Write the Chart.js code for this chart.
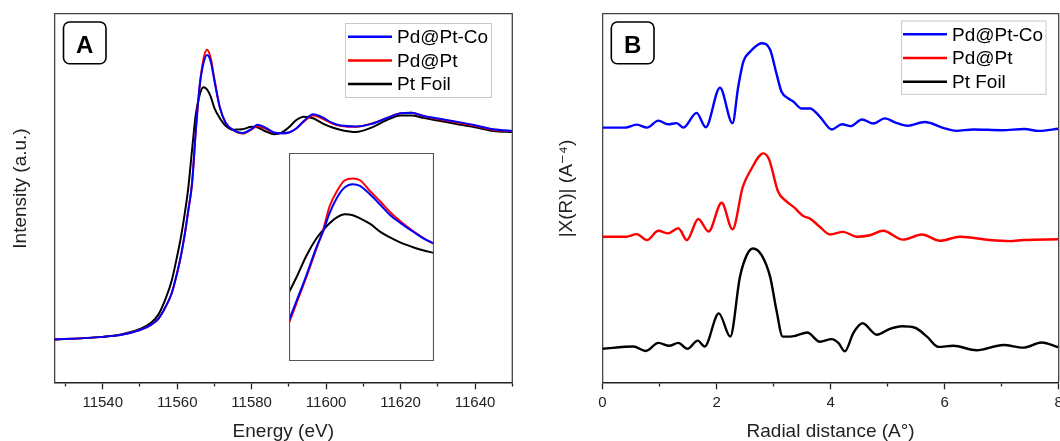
<!DOCTYPE html>
<html>
<head>
<meta charset="utf-8">
<script src="https://cdn.jsdelivr.net/npm/chart.js@4.4.1/dist/chart.umd.min.js"></script>
<style>
  html, body { margin: 0; padding: 0; background: #fff; overflow: hidden; width: 1060px; height: 441px; }
  canvas { position: absolute; display: block; }
  #cA { left: 0; top: 0; }
  #cB { left: 530px; top: 0; }
  #cI { left: 289px; top: 153px; background: #fff; }
</style>
</head>
<body>
<canvas id="cA" width="530" height="441" style="width:530px;height:441px"></canvas>
<canvas id="cB" width="540" height="441" style="width:540px;height:441px"></canvas>
<canvas id="cI" width="145" height="208" style="width:145px;height:208px"></canvas>
<script>
// ---------------- DATA ----------------
const seriesLabels = ['Pd@Pt-Co', 'Pd@Pt', 'Pt Foil'];

// Panel A: normalized XANES (Energy, eV)
const energyA = [11527, 11535, 11540, 11545, 11550, 11553, 11555, 11557, 11558.5, 11560, 11561, 11562, 11563, 11564, 11565, 11566, 11567, 11568, 11569, 11570, 11571.5, 11573, 11575, 11577.5, 11580, 11581.5, 11583.5, 11586, 11588, 11590, 11592, 11594, 11596.5, 11599, 11601.5, 11604, 11608, 11612, 11616, 11620, 11623, 11626, 11630, 11635, 11640, 11645, 11650];
const pdPtCoA = [0.0, 0.006, 0.012, 0.022, 0.045, 0.07, 0.1, 0.16, 0.22, 0.32, 0.40, 0.50, 0.62, 0.75, 1.0, 1.21, 1.32, 1.365, 1.335, 1.24, 1.11, 1.04, 1.005, 0.99, 1.01, 1.03, 1.018, 0.993, 0.989, 0.993, 1.012, 1.048, 1.08, 1.066, 1.04, 1.026, 1.022, 1.033, 1.06, 1.085, 1.088, 1.073, 1.06, 1.045, 1.028, 1.008, 1.0];
const pdPtA   = [0.0, 0.006, 0.012, 0.022, 0.045, 0.07, 0.1, 0.16, 0.22, 0.32, 0.40, 0.50, 0.62, 0.75, 1.0, 1.21, 1.34, 1.39, 1.35, 1.25, 1.11, 1.04, 1.005, 0.988, 1.008, 1.024, 1.013, 0.991, 0.989, 0.993, 1.012, 1.045, 1.074, 1.06, 1.037, 1.024, 1.02, 1.035, 1.06, 1.085, 1.088, 1.072, 1.058, 1.042, 1.025, 1.005, 1.0];
const ptFoilA = [0.0, 0.006, 0.012, 0.024, 0.05, 0.08, 0.12, 0.2, 0.28, 0.40, 0.49, 0.6, 0.73, 0.91, 1.08, 1.17, 1.21, 1.2, 1.165, 1.11, 1.06, 1.025, 1.006, 1.008, 1.02, 1.018, 1.0, 0.985, 0.992, 1.018, 1.053, 1.069, 1.061, 1.037, 1.018, 1.005, 0.995, 1.015, 1.05, 1.075, 1.075, 1.063, 1.05, 1.034, 1.018, 1.0, 0.995];
const energyTicksA = [11540, 11560, 11580, 11600, 11620, 11640];

// Inset of panel A: white-line peak (relative position across inset, relative intensity)
const insetX      = [0, 5, 12, 19, 23.5, 28, 33, 38.5, 44, 49, 56, 63, 70, 77, 86, 93, 100];
const insetPdPtCo = [19.5, 28.5, 41.2, 54.9, 62.2, 71.1, 78.4, 83.5, 85.0, 84.2, 80.0, 75.1, 70.0, 66.3, 62.0, 58.8, 56.5];
const insetPdPt   = [18.3, 27.5, 40.4, 54.1, 63.0, 74.3, 81.6, 86.9, 87.7, 86.9, 81.6, 76.7, 71.4, 67.0, 62.2, 59.0, 56.2];
const insetPtFoil = [33.1, 40.0, 50.6, 59.0, 62.9, 66.2, 69.0, 70.5, 70.1, 68.6, 65.9, 62.1, 59.3, 56.9, 54.6, 53.1, 52.0];

// Panel B: |X(R)| (offset stacked), radial distance
const rPdPtCo = [0, 0.2, 0.4, 0.6, 0.78, 0.98, 1.15, 1.3, 1.42, 1.65, 1.81, 2.06, 2.28, 2.38, 2.47, 2.59, 2.79, 2.94, 3.05, 3.14, 3.26, 3.35, 3.49, 3.64, 3.81, 4.02, 4.2, 4.35, 4.55, 4.75, 4.95, 5.15, 5.35, 5.65, 6.0, 6.2, 6.5, 7.0, 7.4, 7.65, 8.0];
const xrPdPtCo = [69.1, 69.1, 69.1, 69.9, 69.1, 71.0, 70.0, 70.3, 69.1, 73.1, 69.2, 79.9, 70.3, 80.2, 87.0, 89.7, 92.0, 90.2, 83.8, 78.8, 77.0, 76.1, 74.3, 74.3, 72.1, 68.6, 70.0, 69.5, 71.3, 70.2, 71.6, 70.4, 69.6, 70.6, 68.9, 68.2, 68.6, 68.4, 68.7, 68.2, 68.8];
const rPdPt = [0, 0.42, 0.6, 0.78, 0.98, 1.15, 1.33, 1.48, 1.68, 1.86, 2.09, 2.28, 2.46, 2.6, 2.82, 2.92, 3.08, 3.23, 3.35, 3.52, 3.64, 3.81, 3.99, 4.22, 4.46, 4.69, 4.92, 5.27, 5.6, 5.92, 6.27, 6.79, 7.15, 7.38, 8.0];
const xrPdPt = [39.5, 39.5, 40.2, 38.6, 41.1, 40.4, 41.8, 38.6, 44.3, 40.9, 48.7, 41.5, 53.0, 57.6, 62.1, 60.5, 51.7, 49.0, 47.6, 45.1, 44.4, 42.2, 40.1, 40.8, 39.5, 39.9, 41.1, 38.7, 40.1, 38.4, 39.5, 38.6, 38.3, 38.6, 38.8];
const rPtFoil = [0, 0.54, 0.76, 0.98, 1.17, 1.33, 1.49, 1.67, 1.79, 2.04, 2.24, 2.41, 2.53, 2.64, 2.79, 2.94, 3.05, 3.16, 3.29, 3.4, 3.59, 3.81, 4.02, 4.14, 4.25, 4.4, 4.56, 4.81, 5.04, 5.25, 5.48, 5.69, 5.89, 6.15, 6.56, 7.03, 7.38, 7.7, 8.0];
const xrPtFoil = [9.1, 9.7, 8.5, 10.7, 9.9, 10.7, 9.1, 11.3, 9.7, 18.7, 12.4, 28.6, 34.5, 36.3, 34.5, 28.6, 19.6, 12.4, 12.4, 12.7, 13.5, 11.0, 11.7, 10.6, 8.4, 13.4, 16.0, 12.9, 14.5, 15.2, 14.8, 12.4, 9.6, 9.9, 8.7, 10.1, 9.4, 10.8, 9.5];
const radialTicksB = [0, 2, 4, 6, 8];

// ---------------- STYLE / HELPERS ----------------
const FONT = "'Liberation Sans', Arial, 'DejaVu Sans', sans-serif";
const colors = ['#0000ff', '#ff0000', '#000000'];
Chart.defaults.font.family = FONT;
Chart.defaults.color = '#222';

const pts = (xs, ys) => xs.map((x, i) => ({ x: x, y: ys[i] }));

const framePlugin = {
  id: 'frame',
  afterDatasetsDraw(chart, args, o) {
    if (!o || !o.display) return;
    const { ctx, chartArea: a } = chart;
    ctx.save();
    ctx.strokeStyle = o.color;
    ctx.lineWidth = o.width;
    ctx.beginPath();
    if (o.full) {
      ctx.rect(a.left + 0.5, a.top + 0.5, a.right - a.left - 1, a.bottom - a.top - 1);
    } else {
      ctx.moveTo(a.left, a.top);
      ctx.lineTo(a.right, a.top);
      ctx.lineTo(a.right, a.bottom);
    }
    ctx.stroke();
    ctx.restore();
  }
};

const boxLegendPlugin = {
  id: 'boxLegend',
  afterDraw(chart, args, o) {
    if (!o || !o.display) return;
    const ctx = chart.ctx;
    ctx.save();
    ctx.fillStyle = '#fff';
    ctx.fillRect(o.x, o.y, o.w, o.h);
    ctx.strokeStyle = o.borderColor;
    ctx.lineWidth = 1;
    ctx.strokeRect(o.x, o.y, o.w, o.h);
    ctx.font = o.font;
    ctx.textBaseline = 'middle';
    ctx.textAlign = 'left';
    chart.data.datasets.forEach((ds, i) => {
      const y = o.rowY[i];
      ctx.strokeStyle = ds.borderColor;
      ctx.lineWidth = o.lineWidth;
      ctx.beginPath();
      ctx.moveTo(o.lineX1, y);
      ctx.lineTo(o.lineX2, y);
      ctx.stroke();
      ctx.fillStyle = '#000';
      ctx.fillText(ds.label, o.textX, y + 1);
    });
    ctx.restore();
  }
};

const panelLabelPlugin = {
  id: 'panelLabel',
  afterDraw(chart, args, o) {
    if (!o || !o.display) return;
    const ctx = chart.ctx;
    ctx.save();
    ctx.strokeStyle = '#000';
    ctx.lineWidth = 1.6;
    ctx.beginPath();
    ctx.roundRect(o.x, o.y, o.w, o.h, 6);
    ctx.stroke();
    ctx.fillStyle = '#000';
    ctx.font = 'bold 24px ' + FONT;
    ctx.textAlign = 'center';
    ctx.textBaseline = 'alphabetic';
    ctx.fillText(o.text, o.x + o.w / 2, o.baseline);
    ctx.restore();
  }
};

Chart.register(framePlugin, boxLegendPlugin, panelLabelPlugin);

function lineDatasets(seriesXY, width) {
  return seriesXY.map((d, i) => ({
    label: seriesLabels[i],
    data: d,
    borderColor: colors[i],
    backgroundColor: colors[i],
    borderWidth: width,
    pointRadius: 0,
    fill: false,
    cubicInterpolationMode: 'monotone'
  }));
}

function xAxis(min, max, step, majorList, title) {
  const isMajor = v => majorList.some(m => Math.abs(m - v) < 1e-6);
  return {
    type: 'linear', position: 'bottom', min: min, max: max, offset: false,
    border: { display: true, color: '#222', width: 1.5 },
    grid: {
      display: true, drawOnChartArea: false, drawTicks: true, tickLength: 7,
      tickColor: '#222', tickWidth: 1.3,
      tickBorderDash: (c) => (c.tick && isMajor(c.tick.value)) ? [] : [3, 30]
    },
    ticks: {
      stepSize: step, includeBounds: false, autoSkip: false, maxRotation: 0, minRotation: 0,
      padding: 4.5, color: '#222', font: { size: 15, family: FONT },
      callback: (v) => isMajor(v) ? String(v) : ''
    },
    title: { display: true, text: title, color: '#222', padding: 0, font: { size: 19, family: FONT, lineHeight: 1 } },
    afterFit: (s) => { s.height = 58.7; }
  };
}

// leading en-spaces shift the centred, rotated title slightly upward as in the reference
function yAxis(min, max, title, width, titlePad) {
  return {
    type: 'linear', position: 'left', min: min, max: max,
    border: { display: true, color: '#444', width: 1.3 },
    grid: { display: false },
    ticks: { display: false },
    title: { display: true, text: '\u2002\u2002' + title, color: '#222', padding: { top: titlePad, bottom: 0 }, font: { size: 19, family: FONT, lineHeight: 1 } },
    afterFit: (s) => { s.width = width; }
  };
}

const common = {
  responsive: false, animation: false, devicePixelRatio: 1, events: [],
};

// ---------------- PANEL A ----------------
new Chart(document.getElementById('cA'), {
  type: 'line',
  data: { datasets: lineDatasets([pts(energyA, pdPtCoA), pts(energyA, pdPtA), pts(energyA, ptFoilA)], 2) },
  options: Object.assign({}, common, {
    layout: { padding: { left: 0, top: 13.7, right: 17.7, bottom: 0 } },
    scales: {
      x: xAxis(11527, 11650, 10, energyTicksA, 'Energy (eV)'),
      y: yAxis(-0.206, 1.563, 'Intensity (a.u.)', 54.3, 11)
    },
    plugins: {
      legend: { display: false }, tooltip: { enabled: false },
      frame: { display: true, color: '#444', width: 1.3, full: false },
      boxLegend: { display: true, x: 345.5, y: 23.5, w: 146, h: 74, borderColor: '#c8c8c8', font: '19px ' + FONT, lineWidth: 2.4, lineX1: 348, lineX2: 392, textX: 397, rowY: [36.7, 60.5, 84] },
      panelLabel: { display: true, text: 'A', x: 63.5, y: 22, w: 42.5, h: 41.7, baseline: 53.3 }
    }
  })
});

// ---------------- INSET ----------------
new Chart(document.getElementById('cI'), {
  type: 'line',
  data: { datasets: lineDatasets([pts(insetX, insetPdPtCo), pts(insetX, insetPdPt), pts(insetX, insetPtFoil)], 2) },
  options: Object.assign({}, common, {
    layout: { padding: 0 },
    scales: {
      x: { type: 'linear', display: false, min: 0, max: 100 },
      y: { type: 'linear', display: false, min: 0, max: 100 }
    },
    plugins: {
      legend: { display: false }, tooltip: { enabled: false },
      frame: { display: true, color: '#555', width: 1.2, full: true }
    }
  })
});

// ---------------- PANEL B ----------------
new Chart(document.getElementById('cB'), {
  type: 'line',
  data: { datasets: lineDatasets([pts(rPdPtCo, xrPdPtCo), pts(rPdPt, xrPdPt), pts(rPtFoil, xrPtFoil)], 2.4) },
  options: Object.assign({}, common, {
    layout: { padding: { left: 0, top: 13.7, right: 11.3, bottom: 0 } },
    scales: {
      x: xAxis(0, 8, 1, radialTicksB, 'Radial distance (A°)'),
      y: yAxis(0, 100, '|X(R)| (A\u207B\u2074)', 72.5, 27.7)
    },
    plugins: {
      legend: { display: false }, tooltip: { enabled: false },
      frame: { display: true, color: '#444', width: 1.3, full: false },
      boxLegend: { display: true, x: 371.6, y: 21, w: 144.4, h: 73.3, borderColor: '#c8c8c8', font: '19px ' + FONT, lineWidth: 2.4, lineX1: 373, lineX2: 417, textX: 422, rowY: [34.3, 58, 81.7] },
      panelLabel: { display: true, text: 'B', x: 81.3, y: 22, w: 42.7, h: 41.7, baseline: 53.3 }
    }
  })
});
</script>
</body>
</html>
